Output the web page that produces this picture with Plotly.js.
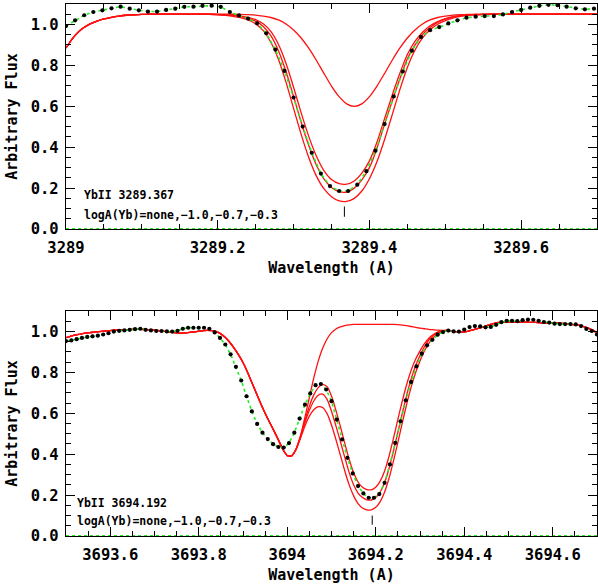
<!DOCTYPE html>
<html>
<head>
<meta charset="utf-8">
<script src="https://cdn.plot.ly/plotly-3.0.1.min.js"></script>
<style>
  html, body { margin: 0; padding: 0; background: #fff; }
  #chart { width: 598px; height: 586px; }
</style>
</head>
<body>
<div id="chart"></div>
<script>
// ---------- Yb II 3289.367 ----------
const topLine = 3289.367;
const topRange = [3289.0, 3289.7];

const topObsWave = [
  3289.000, 3289.012, 3289.024, 3289.036, 3289.048, 3289.060, 3289.072, 3289.084, 3289.096, 3289.108,
  3289.120, 3289.132, 3289.144, 3289.156, 3289.168, 3289.180, 3289.192, 3289.204, 3289.216, 3289.228,
  3289.240, 3289.252, 3289.264, 3289.276, 3289.288, 3289.300, 3289.312, 3289.324, 3289.336, 3289.348,
  3289.360, 3289.372, 3289.384, 3289.396, 3289.408, 3289.420, 3289.432, 3289.444, 3289.456, 3289.468,
  3289.480, 3289.492, 3289.504, 3289.516, 3289.528, 3289.540, 3289.552, 3289.564, 3289.576, 3289.588,
  3289.600, 3289.612, 3289.624, 3289.636, 3289.648, 3289.660, 3289.672, 3289.684, 3289.696
];
const topObsFlux = [
  0.992, 1.020, 1.045, 1.061, 1.069, 1.079, 1.087, 1.077, 1.069, 1.063,
  1.063, 1.071, 1.077, 1.086, 1.087, 1.091, 1.092, 1.086, 1.061, 1.044,
  1.029, 1.006, 0.957, 0.877, 0.773, 0.643, 0.501, 0.373, 0.271, 0.210,
  0.186, 0.186, 0.217, 0.283, 0.383, 0.513, 0.648, 0.770, 0.872, 0.939,
  0.972, 0.987, 1.005, 1.020, 1.033, 1.038, 1.041, 1.041, 1.049, 1.061,
  1.071, 1.082, 1.091, 1.096, 1.094, 1.087, 1.079, 1.074, 1.077
];

const topModelWave = [
  3289.00, 3289.01, 3289.02, 3289.03, 3289.04, 3289.05, 3289.06, 3289.07, 3289.08, 3289.09,
  3289.10, 3289.11, 3289.12, 3289.13, 3289.14, 3289.15, 3289.16, 3289.17, 3289.18, 3289.19,
  3289.20, 3289.21, 3289.22, 3289.23, 3289.24, 3289.25, 3289.26, 3289.27, 3289.28, 3289.29,
  3289.30, 3289.31, 3289.32, 3289.33, 3289.34, 3289.35, 3289.36, 3289.37, 3289.38, 3289.39,
  3289.40, 3289.41, 3289.42, 3289.43, 3289.44, 3289.45, 3289.46, 3289.47, 3289.48, 3289.49,
  3289.50, 3289.51, 3289.52, 3289.53, 3289.54, 3289.55, 3289.56, 3289.57, 3289.58, 3289.59,
  3289.60, 3289.61, 3289.62, 3289.63, 3289.64, 3289.65, 3289.66, 3289.67, 3289.68, 3289.69,
  3289.70
];
// synthetic continuum shared by all abundances blueward and redward of the line
const topModelBlue = [
  0.885, 0.938, 0.975, 0.999, 1.015, 1.027, 1.035, 1.041, 1.045, 1.047,
  1.049, 1.050, 1.050, 1.050, 1.050, 1.050, 1.050, 1.050, 1.050, 1.050
];
const topModelRed = [
  1.050, 1.050, 1.050, 1.050, 1.050, 1.050, 1.050, 1.050, 1.050, 1.050,
  1.050, 1.050, 1.050, 1.050, 1.050
];
const topCoreNone = [
  1.050, 1.050, 1.050, 1.049, 1.048, 1.046, 1.041, 1.034, 1.022, 1.002,
  0.973, 0.934, 0.884, 0.825, 0.761, 0.699, 0.647, 0.612, 0.600, 0.612,
  0.647, 0.699, 0.761, 0.825, 0.884, 0.934, 0.973, 1.002, 1.022, 1.034,
  1.041, 1.046, 1.048, 1.049, 1.050, 1.050
];
const topCoreM10 = [
  1.049, 1.047, 1.045, 1.041, 1.035, 1.024, 1.003, 0.966, 0.903, 0.810,
  0.693, 0.568, 0.453, 0.357, 0.286, 0.242, 0.222, 0.219, 0.235, 0.273,
  0.333, 0.425, 0.540, 0.654, 0.760, 0.853, 0.917, 0.962, 0.994, 1.014,
  1.029, 1.038, 1.043, 1.047, 1.048, 1.049
];
const topCoreM07 = [
  1.048, 1.046, 1.043, 1.038, 1.030, 1.016, 0.990, 0.945, 0.872, 0.770,
  0.648, 0.522, 0.408, 0.313, 0.245, 0.203, 0.183, 0.181, 0.200, 0.240,
  0.300, 0.395, 0.513, 0.625, 0.733, 0.832, 0.899, 0.950, 0.985, 1.010,
  1.026, 1.036, 1.042, 1.046, 1.048, 1.049
];
const topCoreM03 = [
  1.047, 1.044, 1.040, 1.033, 1.022, 1.003, 0.970, 0.913, 0.830, 0.718,
  0.590, 0.463, 0.350, 0.260, 0.197, 0.158, 0.138, 0.135, 0.150, 0.186,
  0.246, 0.330, 0.438, 0.558, 0.680, 0.790, 0.874, 0.934, 0.974, 1.001,
  1.019, 1.031, 1.039, 1.044, 1.047, 1.049
];

// ---------- Yb II 3694.192 ----------
const botLine = 3694.192;
const botRange = [3693.5, 3694.7];

const botObsWave = [
  3693.500, 3693.512, 3693.524, 3693.536, 3693.548, 3693.560, 3693.572, 3693.584, 3693.596, 3693.608,
  3693.620, 3693.632, 3693.644, 3693.656, 3693.668, 3693.680, 3693.692, 3693.704, 3693.716, 3693.728,
  3693.740, 3693.752, 3693.764, 3693.776, 3693.788, 3693.800, 3693.812, 3693.824, 3693.836, 3693.848,
  3693.860, 3693.872, 3693.884, 3693.896, 3693.908, 3693.920, 3693.932, 3693.944, 3693.956, 3693.968,
  3693.980, 3693.992, 3694.004, 3694.016, 3694.028, 3694.040, 3694.052, 3694.064, 3694.076, 3694.088,
  3694.100, 3694.112, 3694.124, 3694.136, 3694.148, 3694.160, 3694.172, 3694.184, 3694.196, 3694.208,
  3694.220, 3694.232, 3694.244, 3694.256, 3694.268, 3694.280, 3694.292, 3694.304, 3694.316, 3694.328,
  3694.340, 3694.352, 3694.364, 3694.376, 3694.388, 3694.400, 3694.412, 3694.424, 3694.436, 3694.448,
  3694.460, 3694.472, 3694.484, 3694.496, 3694.508, 3694.520, 3694.532, 3694.544, 3694.556, 3694.568,
  3694.580, 3694.592, 3694.604, 3694.616, 3694.628, 3694.640, 3694.652, 3694.664, 3694.676, 3694.688,
  3694.700
];
const botObsFlux = [
  0.953, 0.956, 0.962, 0.968, 0.973, 0.976, 0.979, 0.985, 0.991, 0.999,
  1.003, 1.005, 1.008, 1.011, 1.013, 1.008, 1.005, 1.002, 1.002, 1.000,
  0.999, 1.003, 1.013, 1.018, 1.018, 1.018, 1.018, 1.013, 0.995, 0.968,
  0.936, 0.888, 0.827, 0.760, 0.683, 0.609, 0.548, 0.505, 0.474, 0.449,
  0.435, 0.432, 0.454, 0.505, 0.574, 0.642, 0.697, 0.737, 0.743, 0.716,
  0.659, 0.569, 0.472, 0.382, 0.306, 0.244, 0.208, 0.187, 0.187, 0.205,
  0.260, 0.350, 0.455, 0.561, 0.663, 0.753, 0.829, 0.891, 0.932, 0.959,
  0.984, 0.997, 1.004, 1.000, 0.999, 1.009, 1.021, 1.026, 1.025, 1.020,
  1.022, 1.032, 1.045, 1.052, 1.052, 1.050, 1.055, 1.058, 1.057, 1.052,
  1.046, 1.043, 1.038, 1.036, 1.036, 1.036, 1.034, 1.026, 1.012, 1.002,
  0.985
];

const botModelWave = [
  3693.50, 3693.51, 3693.52, 3693.53, 3693.54, 3693.55, 3693.56, 3693.57, 3693.58, 3693.59,
  3693.60, 3693.61, 3693.62, 3693.63, 3693.64, 3693.65, 3693.66, 3693.67, 3693.68, 3693.69,
  3693.70, 3693.71, 3693.72, 3693.73, 3693.74, 3693.75, 3693.76, 3693.77, 3693.78, 3693.79,
  3693.80, 3693.81, 3693.82, 3693.83, 3693.84, 3693.85, 3693.86, 3693.87, 3693.88, 3693.89,
  3693.90, 3693.91, 3693.92, 3693.93, 3693.94, 3693.95, 3693.96, 3693.97, 3693.98, 3693.99,
  3694.00, 3694.01, 3694.02, 3694.03, 3694.04, 3694.05, 3694.06, 3694.07, 3694.08, 3694.09,
  3694.10, 3694.11, 3694.12, 3694.13, 3694.14, 3694.15, 3694.16, 3694.17, 3694.18, 3694.19,
  3694.20, 3694.21, 3694.22, 3694.23, 3694.24, 3694.25, 3694.26, 3694.27, 3694.28, 3694.29,
  3694.30, 3694.31, 3694.32, 3694.33, 3694.34, 3694.35, 3694.36, 3694.37, 3694.38, 3694.39,
  3694.40, 3694.41, 3694.42, 3694.43, 3694.44, 3694.45, 3694.46, 3694.47, 3694.48, 3694.49,
  3694.50, 3694.51, 3694.52, 3694.53, 3694.54, 3694.55, 3694.56, 3694.57, 3694.58, 3694.59,
  3694.60, 3694.61, 3694.62, 3694.63, 3694.64, 3694.65, 3694.66, 3694.67, 3694.68, 3694.69,
  3694.70
];
// blend region shortward of the Yb line, identical for every abundance
const botModelBlue = [
  0.970, 0.976, 0.982, 0.986, 0.990, 0.993, 0.996, 0.998, 1.000, 1.002,
  1.004, 1.006, 1.007, 1.008, 1.009, 1.010, 1.010, 1.010, 1.009, 1.008,
  1.006, 1.004, 1.001, 0.998, 0.995, 0.993, 0.992, 0.993, 0.995, 0.998,
  1.001, 1.004, 1.005, 1.004, 0.999, 0.988, 0.970, 0.947, 0.918, 0.885,
  0.848, 0.802, 0.750, 0.699, 0.648, 0.600, 0.556, 0.514, 0.470, 0.424
];
const botModelRed = [
  1.005, 1.003, 0.999, 0.997, 0.998, 1.002, 1.008, 1.014, 1.020, 1.027,
  1.035, 1.041, 1.044, 1.046, 1.046, 1.046, 1.046, 1.045, 1.045, 1.044,
  1.044, 1.043, 1.042, 1.041, 1.041, 1.040, 1.039, 1.037, 1.035, 1.033,
  1.030, 1.024, 1.016, 1.006, 0.993
];
const botCoreNone = [
  0.393, 0.392, 0.425, 0.490, 0.580, 0.678, 0.773, 0.855, 0.918, 0.963,
  0.994, 1.012, 1.022, 1.028, 1.032, 1.034, 1.034, 1.034, 1.034, 1.034,
  1.034, 1.034, 1.034, 1.034, 1.034, 1.033, 1.031, 1.028, 1.024, 1.020,
  1.016, 1.013, 1.010, 1.008, 1.006, 1.005
];
const botCoreM10 = [
  0.393, 0.392, 0.425, 0.488, 0.565, 0.635, 0.690, 0.725, 0.741, 0.730,
  0.684, 0.614, 0.536, 0.453, 0.374, 0.309, 0.264, 0.238, 0.227, 0.226,
  0.238, 0.268, 0.318, 0.390, 0.477, 0.570, 0.660, 0.742, 0.810, 0.864,
  0.905, 0.940, 0.967, 0.985, 0.997, 1.003
];
const botCoreM07 = [
  0.393, 0.392, 0.425, 0.485, 0.555, 0.615, 0.660, 0.688, 0.694, 0.668,
  0.610, 0.538, 0.463, 0.384, 0.310, 0.250, 0.210, 0.188, 0.177, 0.176,
  0.188, 0.215, 0.262, 0.330, 0.415, 0.507, 0.600, 0.690, 0.768, 0.832,
  0.882, 0.925, 0.958, 0.980, 0.994, 1.001
];
const botCoreM03 = [
  0.393, 0.392, 0.422, 0.478, 0.538, 0.586, 0.617, 0.632, 0.628, 0.598,
  0.543, 0.472, 0.395, 0.318, 0.250, 0.196, 0.158, 0.137, 0.128, 0.128,
  0.140, 0.168, 0.215, 0.282, 0.366, 0.458, 0.553, 0.645, 0.728, 0.798,
  0.856, 0.905, 0.942, 0.970, 0.987, 0.998
];

const abundanceLabels = ['none', '\u22121.0', '\u22120.7', '\u22120.3'];

// ---------- drawing ----------
const RED = '#ff1010';
const GREEN = '#22ee22';
const MONO = '"DejaVu Sans Mono", "Liberation Mono", monospace';

function modelTraces(wave, blue, cores, red, xa, ya) {
  return cores.map((core, i) => ({
    type: 'scatter', mode: 'lines', xaxis: xa, yaxis: ya,
    x: wave, y: blue.concat(core, red),
    name: abundanceLabels[i],
    line: { color: RED, width: 1.3, shape: 'spline', smoothing: 0.6 },
    hoverinfo: 'skip'
  }));
}

function observedTraces(wave, flux, range, xa, ya) {
  return [
    { type: 'scatter', mode: 'lines', xaxis: xa, yaxis: ya,
      x: range, y: [0, 0],
      line: { color: GREEN, width: 2, dash: 'dot' }, hoverinfo: 'skip' },
    { type: 'scatter', mode: 'lines+markers', xaxis: xa, yaxis: ya,
      x: wave, y: flux,
      line: { color: GREEN, width: 1.6, dash: 'dot' },
      marker: { color: '#000', size: 4.2 }, hoverinfo: 'skip' }
  ];
}

const data = [].concat(
  modelTraces(topModelWave, topModelBlue, [topCoreNone, topCoreM10, topCoreM07, topCoreM03], topModelRed, 'x', 'y'),
  observedTraces(topObsWave, topObsFlux, topRange, 'x', 'y'),
  modelTraces(botModelWave, botModelBlue, [botCoreNone, botCoreM10, botCoreM07, botCoreM03], botModelRed, 'x2', 'y2'),
  observedTraces(botObsWave, botObsFlux, botRange, 'x2', 'y2')
);

const tickFont = { family: MONO, size: 15.5, color: '#000', weight: 'bold' };
const titleFont = { family: MONO, size: 15, color: '#000', weight: 'bold' };

function xAxis(range, tick0, anchor) {
  return {
    range: range, anchor: anchor,
    tick0: tick0, dtick: 0.2, tickformat: '.1~f',
    ticks: 'inside', ticklen: 9, tickwidth: 1.1, tickcolor: '#000',
    minor: { dtick: 0.05, ticks: 'inside', ticklen: 5, tickwidth: 1, tickcolor: '#000' },
    showline: true, linecolor: '#000', linewidth: 1.2, mirror: 'ticks',
    showgrid: false, zeroline: false,
    tickfont: tickFont, ticklabelstandoff: 4,
    title: { text: 'Wavelength (A)', font: titleFont, standoff: 6 }
  };
}
function yAxis(domain, anchor) {
  return {
    range: [0, 1.1], domain: domain, anchor: anchor,
    tick0: 0, dtick: 0.2, tickformat: '.1f',
    ticks: 'inside', ticklen: 9, tickwidth: 1.1, tickcolor: '#000',
    minor: { dtick: 0.05, ticks: 'inside', ticklen: 5, tickwidth: 1, tickcolor: '#000' },
    showline: true, linecolor: '#000', linewidth: 1.2, mirror: 'ticks',
    showgrid: false, zeroline: false,
    tickfont: tickFont, ticklabelstandoff: 3,
    title: { text: 'Arbitrary Flux', font: titleFont, standoff: 9 }
  };
}

const noteFont = { family: MONO, size: 11.5, color: '#000', weight: 'bold' };
const abundanceText = 'logA(Yb)=' + abundanceLabels.join(',');

const layout = {
  width: 598, height: 586,
  margin: { l: 66, r: 1, t: 4, b: 50 },
  paper_bgcolor: '#fff', plot_bgcolor: '#fff',
  showlegend: false,
  xaxis: xAxis(topRange, 3289, 'y'),
  yaxis: yAxis([0.577, 1], 'x'),
  xaxis2: xAxis(botRange, 3693.6, 'y2'),
  yaxis2: yAxis([0, 0.423], 'x2'),
  shapes: [
    { type: 'line', xref: 'x', yref: 'y', x0: topLine, x1: topLine, y0: 0.06, y1: 0.11,
      line: { color: '#000', width: 1 } },
    { type: 'line', xref: 'x2', yref: 'y2', x0: botLine, x1: botLine, y0: 0.055, y1: 0.10,
      line: { color: '#000', width: 1 } }
  ],
  annotations: [
    { xref: 'x domain', yref: 'y', x: 0.03, y: 0.164, xanchor: 'left', yanchor: 'middle',
      text: 'YbII ' + topLine.toFixed(3), showarrow: false, font: noteFont },
    { xref: 'x domain', yref: 'y', x: 0.03, y: 0.071, xanchor: 'left', yanchor: 'middle',
      text: abundanceText, showarrow: false, font: noteFont },
    { xref: 'x2 domain', yref: 'y2', x: 0.017, y: 0.160, xanchor: 'left', yanchor: 'middle',
      text: 'YbII ' + botLine.toFixed(3), showarrow: false, font: noteFont },
    { xref: 'x2 domain', yref: 'y2', x: 0.017, y: 0.073, xanchor: 'left', yanchor: 'middle',
      text: abundanceText, showarrow: false, font: noteFont }
  ]
};

Plotly.newPlot('chart', data, layout, { staticPlot: true, displayModeBar: false });
</script>
</body>
</html>
